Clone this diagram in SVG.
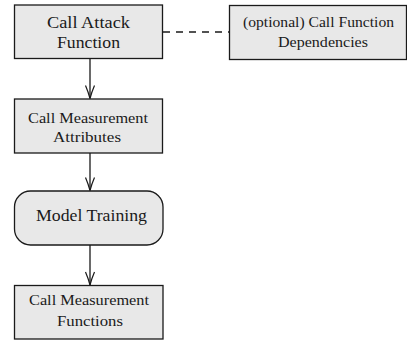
<svg xmlns="http://www.w3.org/2000/svg" width="407" height="341" viewBox="0 0 407 341">
<style>
.box{fill:#e8e8e8;stroke:#1a1a1a;stroke-width:1.3}
text{fill:#1a1a1a;text-anchor:middle}
.big{font-size:17px}
.sm{font-size:15px}
.edge{stroke:#1a1a1a;stroke-width:1.3;fill:none}
</style>
<defs>
<marker id="ah" markerUnits="userSpaceOnUse" markerWidth="16" markerHeight="12" refX="14" refY="6" orient="auto" viewBox="0 0 16 12">
<path d="M1,1.5 Q8,4.5 14,6 Q8,7.5 1,10.5" fill="none" stroke="#1a1a1a" stroke-width="1.2"/>
</marker>
</defs>
<g id="connectors">
<line class="edge" x1="90" y1="59" x2="90" y2="98.5" marker-end="url(#ah)"/>
<line class="edge" x1="90" y1="153" x2="90" y2="190.5" marker-end="url(#ah)"/>
<line class="edge" x1="90" y1="245" x2="90" y2="285" marker-end="url(#ah)"/>
<line class="edge" x1="163" y1="32" x2="229" y2="32" stroke-dasharray="7,6"/>
</g>
<g font-family="Liberation Serif, Times New Roman, serif">
<g id="attack">
<rect class="box" x="14.5" y="5" width="148" height="53.5"/>
<text class="big" x="88.5" y="28" textLength="83" lengthAdjust="spacingAndGlyphs">Call Attack</text>
<text class="big" x="88.5" y="48" textLength="63" lengthAdjust="spacingAndGlyphs">Function</text>
</g>
<g id="dependencies">
<rect class="box" x="229.5" y="5.5" width="177" height="54"/>
<text class="sm" x="318.5" y="27" textLength="151" lengthAdjust="spacingAndGlyphs">(optional) Call Function</text>
<text class="sm" x="323" y="47" textLength="90" lengthAdjust="spacingAndGlyphs">Dependencies</text>
</g>
<g id="attributes">
<rect class="box" x="14.5" y="99" width="148" height="54"/>
<text class="sm" x="88" y="123" textLength="120" lengthAdjust="spacingAndGlyphs">Call Measurement</text>
<text class="sm" x="87" y="142" textLength="68" lengthAdjust="spacingAndGlyphs">Attributes</text>
</g>
<g id="training">
<rect class="box" x="14.5" y="191" width="148.5" height="54" rx="16"/>
<text class="big" x="91.5" y="221" textLength="111" lengthAdjust="spacingAndGlyphs">Model Training</text>
</g>
<g id="functions">
<rect class="box" x="14.5" y="285.5" width="148.5" height="53.5"/>
<text class="sm" x="89" y="305" textLength="120" lengthAdjust="spacingAndGlyphs">Call Measurement</text>
<text class="sm" x="90" y="326" textLength="66" lengthAdjust="spacingAndGlyphs">Functions</text>
</g>
</g>
</svg>
